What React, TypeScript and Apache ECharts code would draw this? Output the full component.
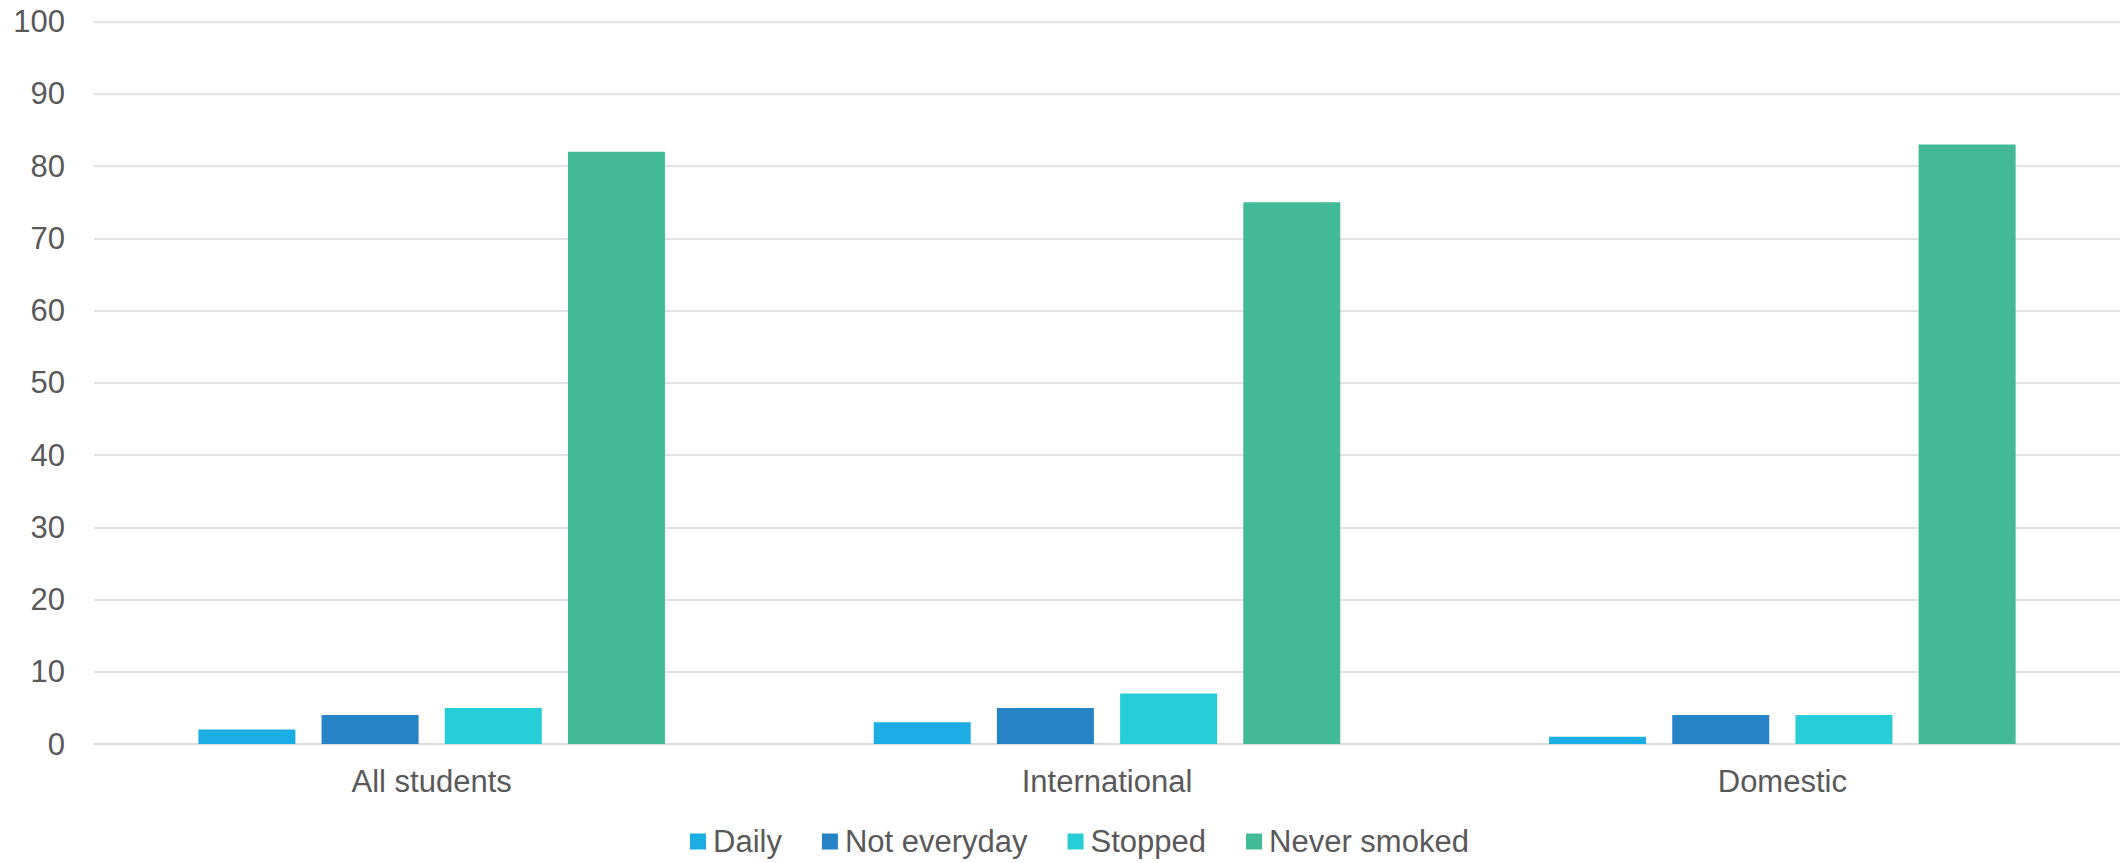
import React, { useEffect, useRef } from "react";
import * as echarts from "echarts";

const categories = ["All students", "International", "Domestic"];
const seriesNames = ["Daily", "Not everyday", "Stopped", "Never smoked"];
const daily = [2, 3, 1];
const notEveryday = [4, 5, 4];
const stopped = [5, 7, 4];
const neverSmoked = [82, 75, 83];
const colors = ["#1CADE4", "#2683C6", "#27CED7", "#42BA97"];

export default function App() {
  const ref = useRef<HTMLDivElement>(null);
  useEffect(() => {
    if (!ref.current) return;
    const chart = echarts.init(ref.current, null, { renderer: "svg" });
    const values = [daily, notEveryday, stopped, neverSmoked];
    const font = "'Liberation Sans', Arial, sans-serif";
    chart.setOption({
      animation: false,
      color: colors,
      grid: { left: 94, right: 0, top: 21.7, bottom: 119, containLabel: false },
      legend: {
        data: seriesNames,
        left: 685,
        top: 821,
        itemWidth: 16,
        itemHeight: 16,
        itemGap: 40,
        icon: "rect",
        textStyle: { color: "#595959", fontSize: 31, fontFamily: font, padding: [0, 0, 0, 2] },
      },
      xAxis: {
        type: "category",
        data: categories,
        axisTick: { show: false },
        axisLine: { show: true, lineStyle: { color: "#D9D9D9", width: 1.5 } },
        axisLabel: { color: "#595959", fontSize: 31, fontFamily: font, margin: 22 },
      },
      yAxis: {
        type: "value",
        min: 0,
        max: 100,
        interval: 10,
        axisLine: { show: false },
        axisTick: { show: false },
        splitLine: { lineStyle: { color: "#D9D9D9", width: 1.5 } },
        axisLabel: { color: "#595959", fontSize: 31, fontFamily: font, margin: 29 },
      },
      series: seriesNames.map((name, i) => ({
        name,
        type: "bar",
        data: values[i],
        barWidth: 97,
        barGap: "27%",
        itemStyle: { color: colors[i] },
      })),
    });
    return () => chart.dispose();
  }, []);
  return (
    <div
      ref={ref}
      style={{ position: "fixed", left: 0, top: 0, width: 2120, height: 863, background: "#fff" }}
    />
  );
}
